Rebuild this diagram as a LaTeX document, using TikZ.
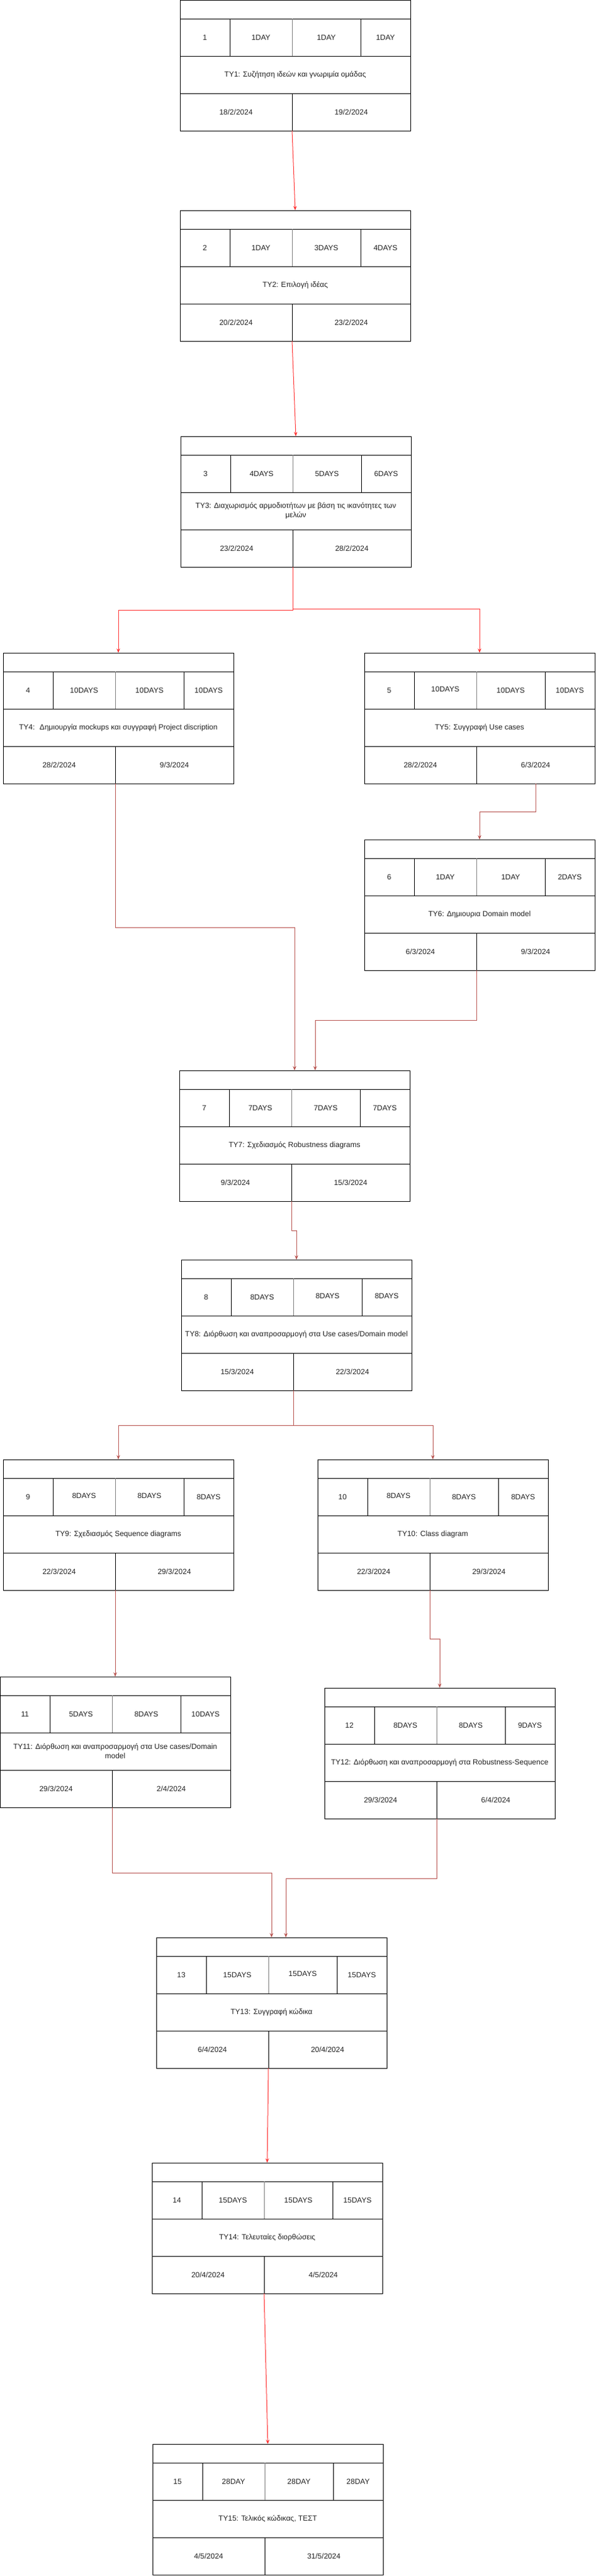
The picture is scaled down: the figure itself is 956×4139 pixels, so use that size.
\documentclass[tikz,border=0pt]{standalone}
\usepackage{fontspec}
\setmainfont{Liberation Sans}
\usetikzlibrary{arrows.meta}

\definecolor{tyred}{HTML}{FF3333}
\definecolor{tydark}{HTML}{B85450}
\definecolor{tyink}{HTML}{222222}

\tikzset{
    tyframe/.style={draw, line width=1pt, minimum width=370pt, minimum height=210pt, inner sep=0pt, outer sep=0pt},
    tyline/.style={line width=1pt},
    tymid/.style={line width=1pt, draw=gray},
    tysplit/.style={line width=0.7pt},
    tytext/.style={font=\fontsize{12}{15}\selectfont, text=tyink, align=center, inner sep=0pt},
    tylink/.style={->, line width=1pt, tydark},
    tylinkred/.style={->, line width=1pt, tyred},
}

\newcommand{\dayup}[1]{\raisebox{3.5pt}{#1}}
\newcommand{\daydn}[1]{\raisebox{-3.5pt}{#1}}

% frame of one task: name, x, y, label
\newcommand{\tybox}[4]{%
    \node[tyframe, anchor=north west] (#1) at (#2,#3) {};
    \begin{scope}[shift={(#1.north west)}]
        \draw[tyline] (0,30)--(370,30) (0,90)--(370,90) (0,150)--(370,150);
        \draw[tyline] (80,30)--(80,90) (290,30)--(290,90);
        \draw[tymid] (180,30)--(180,90);
        \draw[tysplit] (180,150)--(180,210);
        \coordinate (#1-s) at (180,210);
        \coordinate (#1-e) at (275,210);
        \node[tytext] (#1-lab) at (185,120) {#4};
    \end{scope}
}
% cells of one task: name, number, three durations, start, end
\newcommand{\tyrow}[7]{%
    \begin{scope}[shift={(#1.north west)}]
        \node[tytext] (#1-n) at (40,60) {#2};
        \node[tytext] (#1-da) at (130,60) {#3};
        \node[tytext] (#1-db) at (235,60) {#4};
        \node[tytext] (#1-dc) at (330,60) {#5};
        \node[tytext] (#1-st) at (90,180) {#6};
        \node[tytext] (#1-en) at (275,180) {#7};
    \end{scope}
}

\begin{document}
\begin{tikzpicture}[x=1pt, y=-1pt, >={Stealth[length=7pt,width=5.5pt]}]
    \useasboundingbox (0,0) rectangle (956,4139);

    \tybox{b1}{289}{0}{ΤΥ1: Συζήτηση ιδεών και γνωριμία ομάδας}
    \tyrow{b1}{1}{1DAY}{1DAY}{1DAY}{18/2/2024}{19/2/2024}
    \tybox{b2}{289}{338}{ΤΥ2: Επιλογή ιδέας}
    \tyrow{b2}{2}{1DAY}{3DAYS}{4DAYS}{20/2/2024}{23/2/2024}
    \tybox{b3}{290}{701}{ΤΥ3: Διαχωρισμός αρμοδιοτήτων με βάση τις ικανότητες των\\μελών}
    \tyrow{b3}{3}{4DAYS}{5DAYS}{6DAYS}{23/2/2024}{28/2/2024}
    \tybox{b4}{5}{1049}{ΤΥ4:~ Δημιουργία mockups και συγγραφή Project discription}
    \tyrow{b4}{4}{10DAYS}{10DAYS}{10DAYS}{28/2/2024}{9/3/2024}
    \tybox{b5}{585}{1049}{ΤΥ5: Συγγραφή Use cases}
    \tyrow{b5}{5}{\dayup{10DAYS}}{10DAYS}{\daydn{10DAYS}}{28/2/2024}{6/3/2024}
    \tybox{b6}{585}{1349}{ΤΥ6: Δημιουρια Domain model}
    \tyrow{b6}{6}{1DAY}{1DAY}{2DAYS}{6/3/2024}{9/3/2024}
    \tybox{b7}{288}{1720}{ΤΥ7: Σχεδιασμός Robustness diagrams}
    \tyrow{b7}{7}{7DAYS}{7DAYS}{\daydn{7DAYS}}{9/3/2024}{15/3/2024}
    \tybox{b8}{291}{2024}{ΤΥ8: Διόρθωση και αναπροσαρμογή στα Use cases/Domain model}
    \tyrow{b8}{8}{8DAYS}{\dayup{8DAYS}}{\dayup{8DAYS}}{15/3/2024}{22/3/2024}
    \tybox{b9}{5}{2345}{ΤΥ9: Σχεδιασμός Sequence diagrams}
    \tyrow{b9}{9}{\dayup{8DAYS}}{\dayup{8DAYS}}{8DAYS}{22/3/2024}{29/3/2024}
    \tybox{b10}{510}{2345}{ΤΥ10: Class diagram}
    \tyrow{b10}{10}{\dayup{8DAYS}}{8DAYS}{8DAYS}{22/3/2024}{29/3/2024}
    \tybox{b11}{0}{2694}{ΤΥ11: Διόρθωση και αναπροσαρμογή στα Use cases/Domain\\model}
    \tyrow{b11}{11}{5DAYS}{8DAYS}{10DAYS}{29/3/2024}{2/4/2024}
    \tybox{b12}{521}{2712}{ΤΥ12: Διόρθωση και αναπροσαρμογή στα Robustness-Sequence}
    \tyrow{b12}{12}{8DAYS}{8DAYS}{9DAYS}{29/3/2024}{6/4/2024}
    \tybox{b13}{251}{3113}{ΤΥ13: Συγγραφή κώδικα}
    \tyrow{b13}{13}{15DAYS}{\dayup{15DAYS}}{15DAYS}{6/4/2024}{20/4/2024}
    \tybox{b14}{244}{3475}{ΤΥ14: Τελευταίες διορθώσεις}
    \tyrow{b14}{14}{15DAYS}{15DAYS}{15DAYS}{20/4/2024}{4/5/2024}
    \tybox{b15}{245}{3927}{ΤΥ15: Τελικός κώδικας, ΤΕΣΤ}
    \tyrow{b15}{15}{28DAY}{\daydn{28DAY}}{\daydn{28DAY}}{4/5/2024}{31/5/2024}

    \draw[tylinkred](b1-s)--(b2.north);
    \draw[tylinkred](b2-s)--(b3.north);
    \draw[tylinkred](b3-s)--++(0,69)-|(b4.north);
    \draw[tylinkred](b3-s)--++(0,67)-|(b5.north);
    \draw[tylink](b4-s)--++(0,231)-|(b7.north);
    \draw[tylink](b5-e)--++(0,45)-|(b6.north);
    \draw[tylink](b6-s)--++(0,80)-|([xshift=33pt]b7.north);
    \draw[tylink](b7-s)--++(0,47)-|(b8.north);
    \draw[tylink](b8-s)--++(0,56)-|(b9.north);
    \draw[tylink](b8-s)--++(0,56)-|(b10.north);
    \draw[tylink](b9-s)--(b11.north);
    \draw[tylink](b10-s)--++(0,78)-|(b12.north);
    \draw[tylink](b11-s)--++(0,105)-|(b13.north);
    \draw[tylink](b12-s)--++(0,96)-|([xshift=23pt]b13.north);
    \draw[tylinkred](b13-s)--(b14.north);
    \draw[tylinkred](b14-s)--(b15.north);
\end{tikzpicture}
\end{document}
